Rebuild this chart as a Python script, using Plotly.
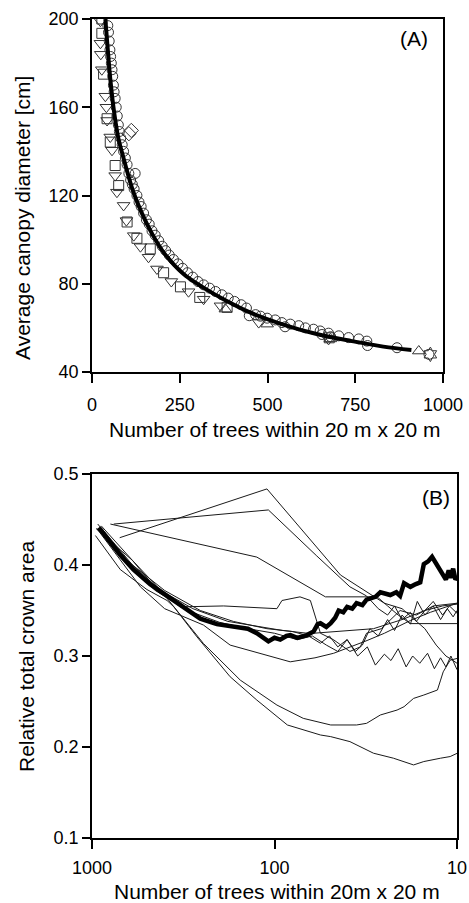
import plotly.graph_objects as go

# ---------------- Panel A data ----------------
fit_n = [38, 45, 52, 62, 75, 88, 100, 117, 142, 170, 205, 260, 320, 380, 450, 545, 640, 740, 830, 910]
fit_d = [200, 186, 173, 159, 146, 138, 131, 122, 112, 103, 94, 84.5, 78, 72.5, 67, 61.5, 57.2, 54, 51.5, 50]

circ_n = [45, 47, 49, 51, 53, 55, 57, 59, 61, 63, 66, 69, 72, 75, 78, 82, 86, 90, 95, 100,
          105, 110, 115, 120, 123, 128, 134, 140, 147, 155, 163, 171, 180, 190, 200, 210, 220,
          232, 245, 258, 272, 287, 302, 318, 335, 352, 370, 388, 406, 425, 440, 448, 466, 480,
          499, 522, 541, 550, 565, 589, 608, 631, 650, 655, 674, 680, 703, 731, 760, 783, 785,
          869, 960]
circ_d = [197, 194, 190, 186, 183, 180, 177, 174, 170, 167, 164, 160, 156, 152, 149, 146, 143, 140, 137, 134,
          130, 127, 125, 123, 130, 120, 117, 115, 112, 109, 107, 104, 102, 99.5, 97, 95, 93,
          91, 89, 87, 85, 83, 81, 79.5, 78, 76.5, 75, 73.5, 72, 70.5, 69, 65.5, 66, 65.3,
          64.4, 63.6, 62.4, 60.5, 61.7, 61, 60, 59.4, 58.6, 57, 57.6, 56, 56.4, 55.6, 55, 54, 52,
          51, 48]

tdown_n = [24, 24, 25, 28, 38, 41, 43, 52, 57, 66, 71, 90, 98, 119, 138, 161, 185, 226, 275, 318, 366, 475, 674]
tdown_d = [199, 189, 184, 177, 165, 160, 154, 146.5, 140.5, 129, 121.5, 115.5, 108.6, 101.8, 96.8, 92, 86.7, 81, 76.4, 73, 70, 62.4, 54.8]

sq_n = [28, 28, 33, 43, 52, 66, 76, 100, 128, 166, 204, 252, 307, 385, 676]
sq_d = [200, 193.5, 175, 154.8, 144.2, 133.6, 124.5, 108, 100.6, 95.8, 85, 78.6, 73.8, 69.3, 55.5]

dia_n = [105, 112]
dia_d = [148, 149.5]

tup_n = [380, 499, 679, 931]
tup_d = [68.5, 61.7, 55, 49.5]

hex_n = [964]
hex_d = [48]

# ---------------- Panel B data ----------------
thick_n = [919, 800, 700, 592, 480, 388, 315, 255, 207, 168, 140, 125, 115, 108, 100, 93, 86, 81.8, 75,
           66.4, 61, 58, 56, 52, 49.2, 46.5, 44.5, 42, 40, 37.5, 35.5, 33, 31.3, 29.8, 28, 26.3, 24.7,
           23.2, 21.5, 20.5, 19.5, 18.7, 18, 16.8, 15.9, 15.2, 14.4, 13.7, 13.2, 12.8, 12.3, 11.9,
           11.5, 11.1, 10.8, 10.5, 10.2, 10]
thick_v = [0.441, 0.425, 0.411, 0.395, 0.379, 0.366, 0.353, 0.341, 0.335, 0.332, 0.330, 0.325, 0.320,
           0.316, 0.320, 0.318, 0.322, 0.323, 0.320, 0.323, 0.327, 0.335, 0.336, 0.332, 0.336, 0.342,
           0.350, 0.348, 0.354, 0.352, 0.358, 0.356, 0.362, 0.363, 0.365, 0.370, 0.368, 0.367, 0.370,
           0.366, 0.380, 0.378, 0.376, 0.379, 0.381, 0.401, 0.404, 0.409, 0.404, 0.398, 0.393, 0.389,
           0.384, 0.394, 0.386, 0.396, 0.384, 0.386]

thin_lines = [
    ([705, 110, 43.5, 30, 25, 20, 17, 15, 13, 11.5, 10.5, 10],
     [0.430, 0.4836, 0.389, 0.368, 0.358, 0.352, 0.340, 0.330, 0.312, 0.300, 0.295, 0.292]),
    ([760, 108, 58.7, 38.6, 31.3, 27, 24, 22, 20, 18, 16.7, 15, 13.5, 12, 11, 10],
     [0.445, 0.4605, 0.410, 0.376, 0.366, 0.352, 0.345, 0.355, 0.340, 0.348, 0.338, 0.350, 0.360, 0.345, 0.355, 0.347]),
    ([793, 125, 52.6, 27.4, 24, 21, 18, 15, 12, 10],
     [0.445, 0.4087, 0.365, 0.365, 0.355, 0.345, 0.3356, 0.3356, 0.3356, 0.3356]),
    ([950, 600, 450, 328, 190, 97, 91, 72.5, 63.6, 56, 47.6, 38.6, 33.9, 31.3, 26, 20.5, 16.7, 13.5, 10],
     [0.440, 0.405, 0.375, 0.354, 0.355, 0.352, 0.361, 0.365, 0.361, 0.325, 0.318, 0.305, 0.310, 0.325, 0.330, 0.350, 0.345, 0.355, 0.358]),
    ([940, 700, 543, 400, 245, 175, 82, 60, 47.4, 31.1, 25, 18, 14, 10],
     [0.440, 0.405, 0.376, 0.352, 0.334, 0.312, 0.2936, 0.298, 0.303, 0.317, 0.325, 0.339, 0.348, 0.358]),
    ([890, 600, 420, 342, 245, 154, 97, 69.6, 49.2, 35.5, 31.3, 26.3, 21.3, 19.5, 17.3, 15.2, 12.8, 12.3, 11.9, 10.9, 10],
     [0.443, 0.405, 0.372, 0.3502, 0.3137, 0.2735, 0.2461, 0.2315, 0.2242, 0.2242, 0.226, 0.2352, 0.2406, 0.2443, 0.2534, 0.2571, 0.2626, 0.2735, 0.2826, 0.2954, 0.2973]),
    ([958, 700, 500, 388, 356, 266, 175, 125, 85, 56, 49.2, 38.6, 28.7, 22.3, 17.3, 15.2, 12.3, 10.9, 10],
     [0.4324, 0.395, 0.373, 0.361, 0.354, 0.321, 0.2772, 0.2516, 0.2242, 0.2132, 0.2114, 0.2059, 0.1932, 0.1877, 0.1803, 0.1840, 0.1877, 0.1895, 0.193]),
    ([900, 600, 400, 255, 168, 110, 80, 65, 56, 50, 45, 40, 36, 33, 30, 27, 24, 22, 20, 18, 16.5, 15, 13.5, 12.3, 11.3, 10.5, 10],
     [0.442, 0.400, 0.372, 0.350, 0.338, 0.330, 0.327, 0.322, 0.314, 0.322, 0.310, 0.318, 0.305, 0.312, 0.330, 0.322, 0.340, 0.328, 0.345, 0.335, 0.360, 0.345, 0.355, 0.340, 0.352, 0.343, 0.350]),
    ([880, 650, 450, 300, 200, 140, 100, 75, 62, 52, 45, 40, 35, 31, 28, 25, 23, 21, 19, 17.5, 16, 14.5, 13.3, 12.3, 11.5, 10.8, 10],
     [0.440, 0.402, 0.372, 0.350, 0.337, 0.330, 0.325, 0.318, 0.322, 0.312, 0.305, 0.318, 0.300, 0.310, 0.290, 0.302, 0.295, 0.308, 0.288, 0.300, 0.292, 0.303, 0.286, 0.298, 0.288, 0.300, 0.285]),
    ([930, 640, 420, 280, 180, 120, 90, 64, 45, 28.7, 20, 15, 12, 10],
     [0.445, 0.405, 0.372, 0.352, 0.338, 0.332, 0.328, 0.3247, 0.327, 0.330, 0.340, 0.350, 0.355, 0.357]),
]

xa_ticks = [0, 250, 500, 750, 1000]
ya_ticks = [40, 80, 120, 160, 200]
xb_ticks = [1000, 100, 10]
yb_ticks = [0.1, 0.2, 0.3, 0.4, 0.5]

FONT = "Liberation Sans, Arial, sans-serif"
INK = "#1a1a1a"

fig = go.Figure()

def mk(n, d, sym, size=10):
    fig.add_trace(go.Scatter(
        x=n, y=d, mode="markers", xaxis="x", yaxis="y", showlegend=False,
        marker=dict(symbol=sym, size=size, color="#333333", line=dict(width=1, color="#333333")),
    ))

mk(tdown_n, tdown_d, "triangle-down-open", 11)
mk(sq_n, sq_d, "square-open", 10)
mk(dia_n, dia_d, "diamond-open", 11)
mk(tup_n, tup_d, "triangle-up-open", 11)
mk(circ_n, circ_d, "circle-open", 10)
mk(hex_n, hex_d, "hexagram-open", 11)

fig.add_trace(go.Scatter(x=fit_n, y=fit_d, mode="lines", xaxis="x", yaxis="y", showlegend=False,
                         line=dict(color="black", width=4, shape="spline")))

for n, v in thin_lines:
    fig.add_trace(go.Scatter(x=n, y=v, mode="lines", xaxis="x2", yaxis="y2", showlegend=False,
                             line=dict(color=INK, width=1)))
fig.add_trace(go.Scatter(x=thick_n, y=thick_v, mode="lines", xaxis="x2", yaxis="y2", showlegend=False,
                         line=dict(color="black", width=4.5)))

W, H = 469, 903
axis_common = dict(showline=True, linecolor="black", linewidth=1.5, mirror=True, ticks="outside",
                   tickcolor="black", tickwidth=1.5, showgrid=False, zeroline=False,
                   tickfont=dict(family=FONT, size=18, color="black"), automargin=False)

def label(text, x, y, angle=0, size=21):
    return dict(text=text, x=x / W, y=1 - y / H, xref="paper", yref="paper", showarrow=False,
                textangle=angle, font=dict(family=FONT, size=size, color="black"),
                xanchor="center", yanchor="middle")

fig.update_layout(
    width=W, height=H, margin=dict(l=0, r=0, t=0, b=0),
    paper_bgcolor="white", plot_bgcolor="white",
    font=dict(family=FONT, color="black"),
    xaxis=dict(axis_common, domain=[92 / W, 443 / W], range=[0, 1000], tickvals=xa_ticks, ticklen=9,
               anchor="y", ticklabelstandoff=7),
    yaxis=dict(axis_common, domain=[1 - 372 / H, 1 - 19 / H], range=[40, 200], tickvals=ya_ticks, ticklen=8,
               anchor="x"),
    xaxis2=dict(axis_common, domain=[92 / W, 457 / W], type="log", range=[3, 1], tickvals=xb_ticks,
                ticktext=[str(t) for t in xb_ticks], ticklen=9, anchor="y2", ticklabelstandoff=4),
    yaxis2=dict(axis_common, domain=[1 - 838 / H, 1 - 474 / H], range=[0.1, 0.5], tickvals=yb_ticks,
                ticktext=["0.1", "0.2", "0.3", "0.4", "0.5"], ticklen=8, anchor="x2"),
    annotations=[
        label("(A)", 414, 39),
        label("(B)", 436, 497),
        label("Average canopy diameter [cm]", 23, 218, -90),
        label("Relative total crown area", 26, 657, -90),
        label("Number of trees within 20 m x 20 m", 274, 429),
        label("Number of trees within 20m x 20 m", 277, 891),
    ],
)

fig.write_html("out.html", post_script="document.body.style.margin='0';",
               config={"displayModeBar": False})
